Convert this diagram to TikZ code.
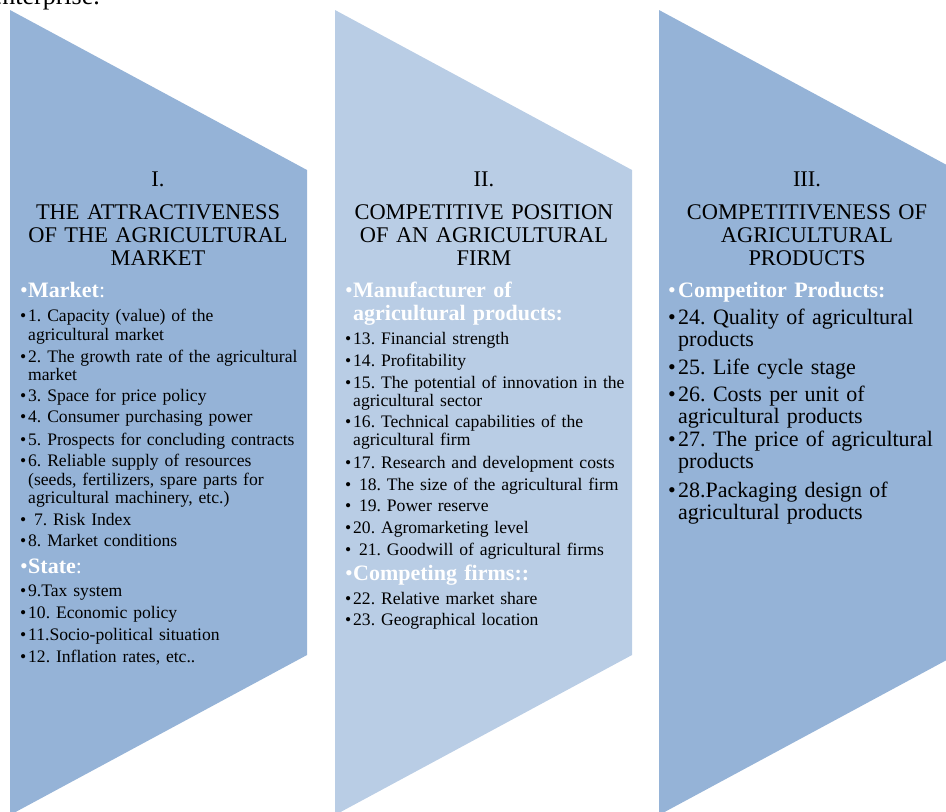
\documentclass[tikz,border=0pt]{standalone}
\usepackage{fontspec}
\setmainfont{Liberation Serif}
\usepackage{tikz}
\frenchspacing
\definecolor{chevdark}{HTML}{95B3D7}
\definecolor{chevlight}{HTML}{B9CDE5}
\newcommand{\bul}{\makebox[8pt][l]{\textbullet}}
\newcommand{\bulbig}{\makebox[10pt][l]{\textbullet}}

\begin{document}
\begin{tikzpicture}[x=1pt,y=-1pt,
  chev/.style={fill=#1,draw=none},
  numtext/.style={anchor=base,inner sep=0pt,font=\fontsize{22.4}{23}\selectfont},
  titletext/.style={anchor=base,align=center,text width=290pt,inner sep=0pt,font=\fontsize{22.4}{23}\selectfont},
  headtext/.style={anchor=base west,align=left,text width=290pt,inner sep=0pt,text=white,font=\fontsize{22}{23}\selectfont},
  itemtext/.style={anchor=base west,align=left,text width=290pt,inner sep=0pt,font=\fontsize{17.6}{18.3}\selectfont},
  bigitemtext/.style={anchor=base west,align=left,text width=280pt,inner sep=0pt,font=\fontsize{22}{22.5}\selectfont}]
\clip (0,0) rectangle (946,812);

\node[anchor=base east,inner sep=0pt,font=\fontsize{26}{28}\selectfont] (ent) at (100,4.5) {enterprise.};

\fill[chev=chevdark] (10,10) -- (307,170) -- (307,655) -- (10,815) -- cycle;
\fill[chev=chevlight] (335,10) -- (632,170) -- (632,655) -- (335,815) -- cycle;
\fill[chev=chevdark] (659,10) -- (956,170) -- (956,655) -- (659,815) -- cycle;

% I.
\node[numtext] (n1) at (158,186.5) {I.};
\node[titletext] (t1) at (158,219) {THE ATTRACTIVENESS\\OF THE AGRICULTURAL\\MARKET};
\node[headtext] (h1) at (20,297) {\bul\textbf{Market}:};
\node[itemtext] (m1) at (20,321.7) {\bul 1. Capacity (value) of the\\\phantom{\bul}agricultural market};
\node[itemtext] (m2) at (20,362.3) {\bul 2. The growth rate of the agricultural\\\phantom{\bul}market};
\node[itemtext] (m3) at (20,401.7) {\bul 3. Space for price policy};
\node[itemtext] (m4) at (20,422.7) {\bul 4. Consumer purchasing power};
\node[itemtext] (m5) at (20,445) {\bul 5. Prospects for concluding contracts};
\node[itemtext] (m6) at (20,466.7) {\bul 6. Reliable supply of resources\\\phantom{\bul}(seeds, fertilizers, spare parts for\\\phantom{\bul}agricultural machinery, etc.)};
\node[itemtext] (m7) at (20,525) {\bul\ 7. Risk Index};
\node[itemtext] (m8) at (20,546.7) {\bul 8. Market conditions};
\node[headtext] (h2) at (20,573.3) {\bul\textbf{State}:};
\node[itemtext] (m9) at (20,596.7) {\bul 9.Tax system};
\node[itemtext] (m10) at (20,618.3) {\bul 10. Economic policy};
\node[itemtext] (m11) at (20,640.7) {\bul 11.Socio-political situation};
\node[itemtext] (m12) at (20,662.3) {\bul 12. Inflation rates, etc..};

% II.
\node[numtext] (n2) at (484,186.5) {II.};
\node[titletext] (t2) at (484,219) {COMPETITIVE POSITION\\OF AN AGRICULTURAL\\FIRM};
\node[headtext] (h3) at (345,297.3) {\bul\textbf{Manufacturer of}\\\phantom{\bul}\textbf{agricultural products:}};
\node[itemtext] (p13) at (345,344.3) {\bul 13. Financial strength};
\node[itemtext] (p14) at (345,366.7) {\bul 14. Profitability};
\node[itemtext] (p15) at (345,388.3) {\bul 15. The potential of innovation in the\\\phantom{\bul}agricultural sector};
\node[itemtext] (p16) at (345,427.3) {\bul 16. Technical capabilities of the\\\phantom{\bul}agricultural firm};
\node[itemtext] (p17) at (345,468.3) {\bul 17. Research and development costs};
\node[itemtext] (p18) at (345,490) {\bul\ 18. The size of the agricultural firm};
\node[itemtext] (p19) at (345,511.7) {\bul\ 19. Power reserve};
\node[itemtext] (p20) at (345,533.3) {\bul 20. Agromarketing level};
\node[itemtext] (p21) at (345,555.6) {\bul\ 21. Goodwill of agricultural firms};
\node[headtext] (h4) at (345,580.7) {\bul\textbf{Competing firms::}};
\node[itemtext] (p22) at (345,604) {\bul 22. Relative market share};
\node[itemtext] (p23) at (345,625.6) {\bul 23. Geographical location};

% III.
\node[numtext] (n3) at (807,186.5) {III.};
\node[titletext] (t3) at (807,219) {COMPETITIVENESS OF\\AGRICULTURAL\\PRODUCTS};
\node[headtext] (h5) at (668,297.3) {\bulbig\textbf{Competitor Products:}};
\node[bigitemtext] (c24) at (668,324.3) {\bulbig 24. Quality of agricultural\\\phantom{\bulbig}products};
\node[bigitemtext] (c25) at (668,374.3) {\bulbig 25. Life cycle stage};
\node[bigitemtext] (c26) at (668,401) {\bulbig 26. Costs per unit of\\\phantom{\bulbig}agricultural products};
\node[bigitemtext] (c27) at (668,446) {\bulbig 27. The price of agricultural\\\phantom{\bulbig}products};
\node[bigitemtext] (c28) at (668,497) {\bulbig 28.Packaging design of\\\phantom{\bulbig}agricultural products};
\end{tikzpicture}
\end{document}
